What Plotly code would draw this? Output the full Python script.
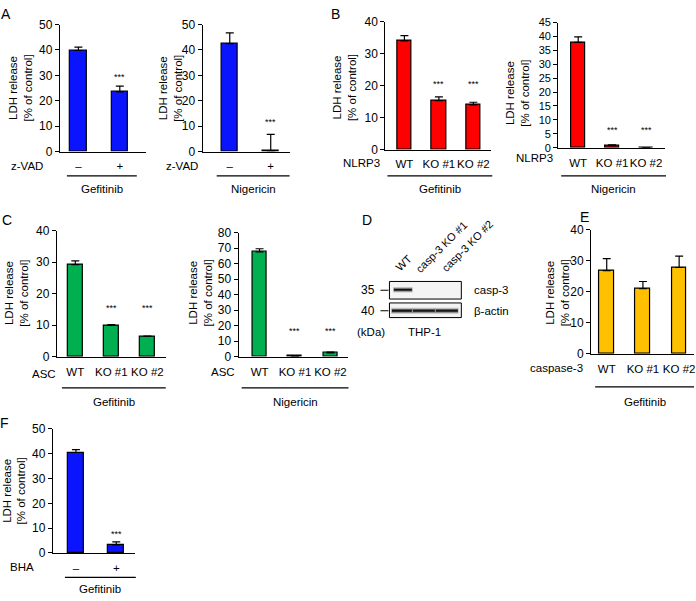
import plotly.graph_objects as go

# ---------------- data ----------------
A_labels = ["–", "+"]
A_gef_values = [39.8, 23.5]
A_gef_errors = [1.3, 2.3]
A_nig_values = [42.5, 0.3]
A_nig_errors = [4.2, 6.5]

B_labels = ["WT", "KO #1", "KO #2"]
B_gef_values = [34.0, 15.3, 14.0]
B_gef_errors = [1.6, 1.2, 0.8]
B_nig_values = [37.9, 0.7, 0.0]
B_nig_errors = [2.0, 0.3, 0.0]

C_labels = ["WT", "KO #1", "KO #2"]
C_gef_values = [29.2, 9.9, 6.5]
C_gef_errors = [1.2, 0.3, 0.0]
C_nig_values = [67.5, 0.4, 2.5]
C_nig_errors = [2.1, 0.2, 0.5]

E_labels = ["WT", "KO #1", "KO #2"]
E_values = [26.8, 21.0, 27.8]
E_errors = [3.9, 2.3, 3.7]

F_labels = ["–", "+"]
F_values = [40.5, 3.3]
F_errors = [1.2, 1.2]

D_lanes = ["WT", "casp-3 KO #1", "casp-3 KO #2"]
D_markers = ["35", "40"]
D_proteins = ["casp-3", "β-actin"]

# ---------------- layout helpers ----------------
W, H = 696, 601
FONT = "Liberation Sans, Arial, sans-serif"
BLUE = "#0a14ff"
RED = "#ff0000"
GREEN = "#00b050"
YELLOW = "#ffc000"


def PX(x):
    return x / W


def PY(y):
    return 1 - y / H


panels = [
    dict(labels=A_labels, values=A_gef_values, errors=A_gef_errors, color=BLUE,
         x0=60, x1=146, yz=148, yt=18, ymax=50, dtick=10, xr=[-0.446, 1.627], bw=0.40,
         stars=[None, 29.2], tf=12),
    dict(labels=A_labels, values=A_nig_values, errors=A_nig_errors, color=BLUE,
         x0=203, x1=290, yz=148, yt=18, ymax=50, dtick=10, xr=[-0.66, 1.46], bw=0.40,
         stars=[None, 11.5], tf=12),
    dict(labels=B_labels, values=B_gef_values, errors=B_gef_errors, color=RED,
         x0=386, x1=492, yz=146, yt=15, ymax=40, dtick=10, xr=[-0.55, 2.52], bw=0.41,
         stars=[None, 20.4, 20.4], tf=12),
    dict(labels=B_labels, values=B_nig_values, errors=B_nig_errors, color=RED,
         x0=559, x1=666, yz=144, yt=16, ymax=45, dtick=5, xr=[-0.59, 2.56], bw=0.41,
         stars=[None, 6.3, 6.3], tf=11),
    dict(labels=C_labels, values=C_gef_values, errors=C_gef_errors, color=GREEN,
         x0=57, x1=166, yz=358, yt=229, ymax=40, dtick=10, xr=[-0.51, 2.51], bw=0.42,
         stars=[None, 15.5, 15.5], tf=12),
    dict(labels=C_labels, values=C_nig_values, errors=C_nig_errors, color=GREEN,
         x0=239, x1=349, yz=358, yt=231, ymax=80, dtick=10, xr=[-0.59, 2.51], bw=0.39,
         stars=[None, 16.4, 16.4], tf=12),
    dict(labels=E_labels, values=E_values, errors=E_errors, color=YELLOW,
         x0=592, x1=695, yz=355, yt=228, ymax=40, dtick=10, xr=[-0.43, 2.41], bw=0.41,
         stars=[None, None, None], tf=12),
    dict(labels=F_labels, values=F_values, errors=F_errors, color=BLUE,
         x0=53, x1=135, yz=559, yt=432, ymax=50, dtick=10, xr=[-0.57, 1.46], bw=0.40,
         stars=[None, 7.5], tf=12),
]

fig = go.Figure()
layout = dict(
    width=W, height=H, margin=dict(l=0, r=0, t=0, b=0),
    paper_bgcolor="white", plot_bgcolor="white", showlegend=False,
    font=dict(family=FONT, size=11, color="black"),
    bargap=0,
)
annotations = []
shapes = []

for i, p in enumerate(panels, start=1):
    xa = "x" if i == 1 else f"x{i}"
    ya = "y" if i == 1 else f"y{i}"
    n = len(p["values"])
    fig.add_trace(go.Bar(
        x=p["labels"], y=p["values"], xaxis=xa, yaxis=ya,
        width=[p["bw"]] * n,
        marker=dict(color=p["color"], line=dict(color="black", width=1.2)),
        error_y=dict(type="data", symmetric=False, array=p["errors"],
                     arrayminus=[0] * n, color="black", thickness=1.2, width=4),
        hoverinfo="skip",
    ))
    layout[f"xaxis{'' if i == 1 else i}"] = dict(
        domain=[PX(p["x0"]), PX(p["x1"])], anchor=ya, type="category",
        range=p["xr"], showline=True, linecolor="black", linewidth=1.2,
        ticks="", showgrid=False, zeroline=False, fixedrange=True,
        tickfont=dict(size=11.5), ticklabelstandoff=4, tickangle=0,
    )
    layout[f"yaxis{'' if i == 1 else i}"] = dict(
        domain=[PY(p["yz"]), PY(p["yt"])], anchor=xa,
        range=[0, p["ymax"]], dtick=p["dtick"], tick0=0,
        showline=True, linecolor="black", linewidth=1.2,
        ticks="outside", ticklen=4, tickwidth=1, tickcolor="black",
        showgrid=False, zeroline=False, fixedrange=True,
        tickfont=dict(size=p["tf"]),
    )
    for lab, s in zip(p["labels"], p["stars"]):
        if s is not None:
            annotations.append(dict(x=lab, y=s, xref=xa, yref=ya, text="***",
                                    showarrow=False, font=dict(size=9),
                                    xanchor="center", yanchor="middle"))

# y-axis titles
for (cx, cy) in [(20.5, 83), (170, 83), (344.5, 83), (518.5, 88),
                 (16.5, 293), (200.5, 293), (558, 293), (14, 495)]:
    annotations.append(dict(x=PX(cx), y=PY(cy), xref="paper", yref="paper",
                            text="LDH release<br>[% of control]", textangle=-90,
                            showarrow=False, font=dict(size=11.5),
                            xanchor="center", yanchor="middle"))

# row labels
for (txt, cx, cy) in [("z-VAD", 27, 163), ("z-VAD", 182, 163),
                      ("NLRP3", 362, 160), ("NLRP3", 535, 155),
                      ("ASC", 44, 376), ("ASC", 223, 374),
                      ("caspase-3", 557, 370), ("BHA", 22, 573)]:
    annotations.append(dict(x=PX(cx), y=PY(cy), xref="paper", yref="paper",
                            text=txt, showarrow=False, font=dict(size=11.5),
                            xanchor="center", yanchor="middle"))

# group lines and treatment names
for (txt, xa_, xb_, ly, ty) in [("Gefitinib", 67, 137, 173, 186),
                                 ("Nigericin", 217, 290, 173, 186),
                                 ("Gefitinib", 388, 493, 173, 186),
                                 ("Nigericin", 562, 667, 173, 186),
                                 ("Gefitinib", 62, 166, 390, 404),
                                 ("Nigericin", 242, 349, 390, 404),
                                 ("Gefitinib", 596, 695, 389, 404),
                                 ("Gefitinib", 65, 136, 584, 596)]:
    shapes.append(dict(type="line", xref="paper", yref="paper",
                       x0=PX(xa_), x1=PX(xb_), y0=PY(ly), y1=PY(ly),
                       line=dict(color="black", width=1.2)))
    annotations.append(dict(x=PX((xa_ + xb_) / 2), y=PY(ty), xref="paper", yref="paper",
                            text=txt, showarrow=False, font=dict(size=11.5),
                            xanchor="center", yanchor="middle"))

# panel letters
for (txt, cx, cy) in [("A", 6, 7), ("B", 336, 7), ("C", 7, 218),
                      ("D", 368, 218), ("E", 585, 215), ("F", 5, 426)]:
    annotations.append(dict(x=PX(cx), y=PY(cy), xref="paper", yref="paper",
                            text=txt, showarrow=False, font=dict(size=14),
                            xanchor="center", yanchor="middle"))

# ---------------- panel D: western blot ----------------
boxes = [(390, 462, 281, 299), (390, 462, 303, 318)]
for (bx0, bx1, by0, by1) in boxes:
    shapes.append(dict(type="rect", xref="paper", yref="paper",
                       x0=PX(bx0), x1=PX(bx1), y0=PY(by0), y1=PY(by1),
                       line=dict(color="black", width=1), fillcolor="#f4f4f4"))


def band(x0, x1, yc, h, dark):
    for k, op in [(2.0, 0.25), (1.2, 0.5), (0.6, 1.0)]:
        shapes.append(dict(type="rect", xref="paper", yref="paper",
                           x0=PX(x0 - k * 0.6), x1=PX(x1 + k * 0.6),
                           y0=PY(yc - h * k / 1.2), y1=PY(yc + h * k / 1.2),
                           line=dict(width=0), fillcolor=dark, opacity=op, layer="above"))


band(395, 412, 289.5, 1.6, "#111111")
band(393, 412, 311, 1.8, "#111111")
band(414, 435, 311, 1.8, "#151515")
band(437, 458, 311, 1.8, "#151515")

for mk, yy in zip(D_markers, [290, 311]):
    annotations.append(dict(x=PX(378), y=PY(yy), xref="paper", yref="paper",
                            text=mk, showarrow=False, font=dict(size=12),
                            xanchor="right", yanchor="middle"))
    shapes.append(dict(type="line", xref="paper", yref="paper",
                       x0=PX(381), x1=PX(389), y0=PY(yy), y1=PY(yy),
                       line=dict(color="black", width=1)))
for pr, yy in zip(D_proteins, [290, 311]):
    annotations.append(dict(x=PX(473), y=PY(yy), xref="paper", yref="paper",
                            text=pr, showarrow=False, font=dict(size=11.5),
                            xanchor="left", yanchor="middle"))
for lane, (cx, cy) in zip(D_lanes, [(404, 262), (442, 246), (468, 245)]):
    annotations.append(dict(x=PX(cx), y=PY(cy), xref="paper", yref="paper",
                            text=lane, textangle=-45, showarrow=False,
                            font=dict(size=11), xanchor="center", yanchor="middle"))
annotations.append(dict(x=PX(372), y=PY(333), xref="paper", yref="paper",
                        text="(kDa)", showarrow=False, font=dict(size=11.5),
                        xanchor="center", yanchor="middle"))
annotations.append(dict(x=PX(425), y=PY(333), xref="paper", yref="paper",
                        text="THP-1", showarrow=False, font=dict(size=11.5),
                        xanchor="center", yanchor="middle"))

layout["annotations"] = annotations
layout["shapes"] = shapes
fig.update_layout(**layout)
fig.write_html(
    "out.html",
    config={"displayModeBar": False},
    post_script="document.body.style.margin='0';document.body.style.overflow='hidden';",
)
